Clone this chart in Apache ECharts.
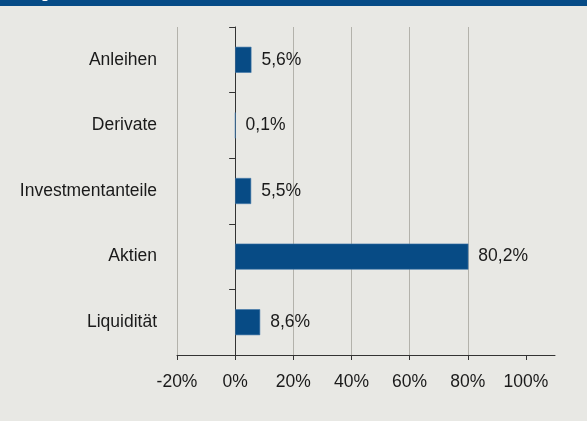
<!DOCTYPE html>
<html>
<head>
<meta charset="utf-8">
<script src="https://cdn.jsdelivr.net/npm/echarts@6/dist/echarts.min.js"></script>
<style>
  html, body { margin: 0; padding: 0; background: #e8e8e4; }
  #chart { width: 587px; height: 421px; }
</style>
</head>
<body>
<div id="chart"></div>
<script>
// Daten
var categories = ['Anleihen', 'Derivate', 'Investmentanteile', 'Aktien', 'Liquidität'];
var values = [5.6, 0.1, 5.5, 80.2, 8.6];
var tickValues = [-20, 0, 20, 40, 60, 80, 100];

var fontFamily = '"Liberation Sans Narrow", "Arial Narrow", "Liberation Sans", Arial, sans-serif';
var fontSize = 17.5;
var dark = '#1a1a1a';

var myChart = echarts.init(document.getElementById('chart'));
myChart.setOption({
    backgroundColor: '#e8e8e4',
    animation: false,
    graphic: [
        {
            type: 'rect',
            left: 0, top: 0,
            shape: { width: 587, height: 6 },
            style: { fill: '#064b86' },
            z: 10
        },
        {
            // Titel, fast vollständig abgeschnitten
            type: 'text',
            left: 8, top: -14,
            style: { text: 'Anlageklassen', fill: '#fff', font: 'bold 15px ' + fontFamily },
            z: 11
        }
    ],
    grid: { left: 177, right: 32, top: 27, bottom: 66, outerBoundsMode: 'none' },
    xAxis: {
        type: 'value',
        min: -20,
        max: 110,
        interval: 20,
        axisLine: { show: true, lineStyle: { color: '#333', width: 1 } },
        axisTick: { show: true, length: 5, lineStyle: { color: '#333' }, customValues: tickValues },
        axisLabel: {
            customValues: tickValues,
            formatter: function (v) { return v + '%'; },
            color: dark, fontSize: fontSize, fontFamily: fontFamily, margin: 18
        },
        splitLine: { show: true, showMaxLine: false, lineStyle: { color: '#b3b2ab', width: 1 } }
    },
    yAxis: [
        {
            type: 'category',
            data: categories,
            inverse: true,
            axisLine: { show: true, onZero: true, lineStyle: { color: '#333' } },
            axisTick: { show: true, length: 6, lineStyle: { color: '#333' } },
            axisLabel: { show: false }
        },
        {
            type: 'category',
            data: categories,
            inverse: true,
            position: 'left',
            axisLine: { show: false, onZero: false },
            axisTick: { show: false },
            axisLabel: { color: dark, fontSize: fontSize, fontFamily: fontFamily, margin: 20, padding: [3, 0, 0, 0] }
        }
    ],
    series: [
        {
            type: 'bar',
            yAxisIndex: 0,
            data: values,
            barWidth: 26,
            itemStyle: { color: '#074b85', borderColor: '#3f76a8', borderWidth: 0.6 },
            label: {
                show: true,
                position: 'right',
                distance: 10,
                color: dark,
                fontSize: fontSize,
                fontFamily: fontFamily,
                padding: [3, 0, 0, 0],
                formatter: function (p) { return String(p.value).replace('.', ',') + '%'; }
            }
        }
    ]
});
</script>
</body>
</html>
